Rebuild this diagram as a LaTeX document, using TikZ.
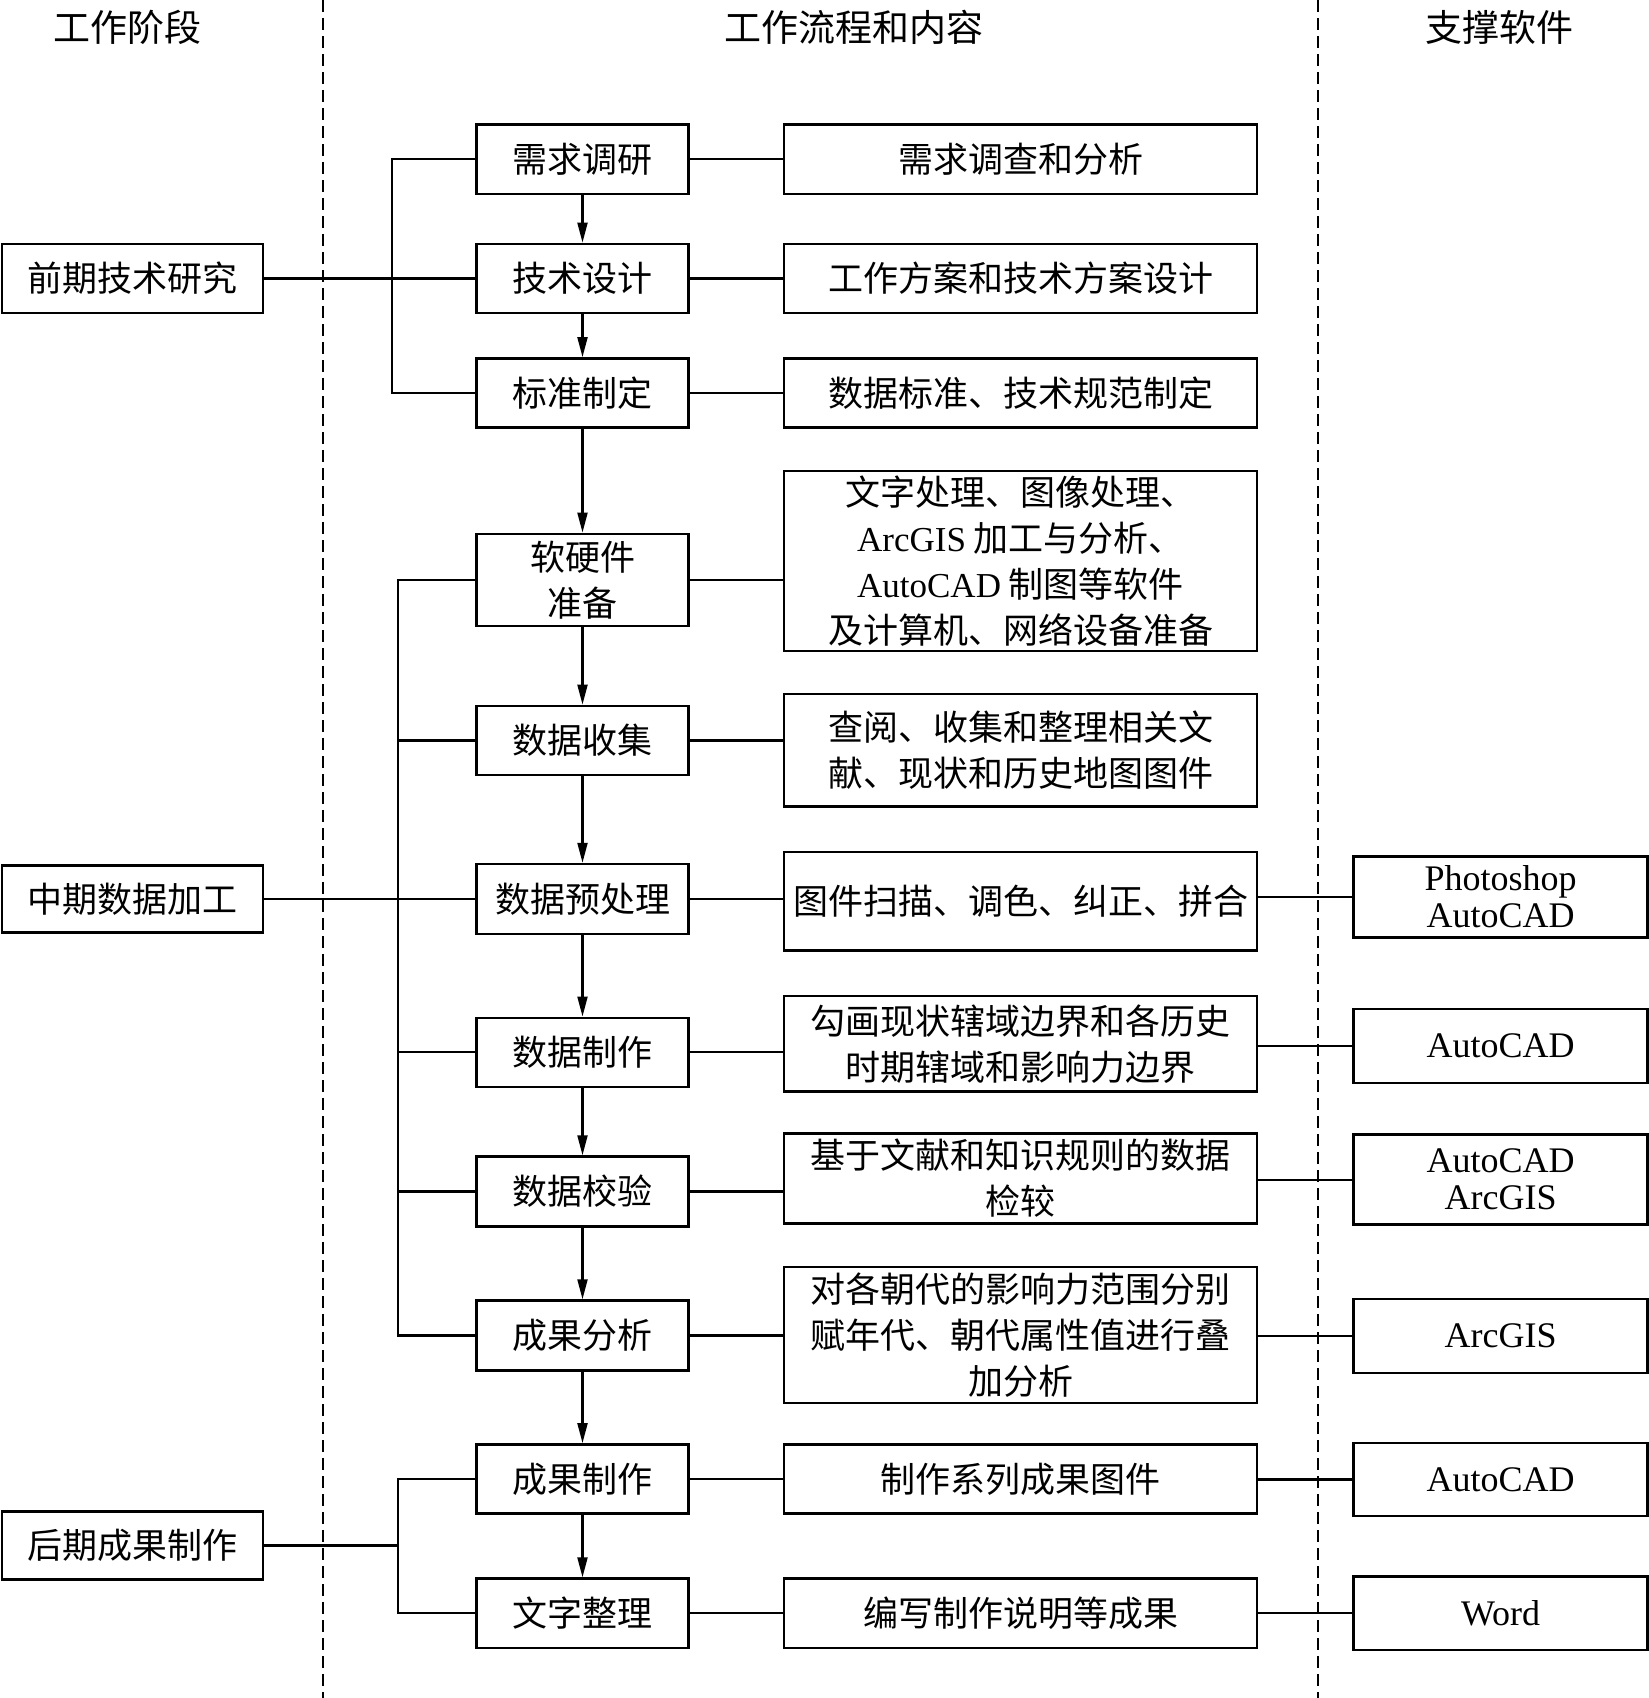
\documentclass[tikz,border=0pt]{standalone}
\usepackage{fontspec}
\setmainfont{Noto Sans CJK SC}
\newfontfamily\lat{Liberation Serif}
\usetikzlibrary{arrows.meta}
\begin{document}
\begin{tikzpicture}[x=1pt,y=-1pt,
  box/.style={draw,line width=2.5pt,inner sep=0pt,align=center,font=\fontsize{35}{46}\selectfont},
  lbox/.style={box,minimum width=261},
  mbox/.style={box,minimum width=212},
  cbox/.style={box,minimum width=473},
  sbox/.style={box,minimum width=294,font=\lat\fontsize{36}{37}\selectfont},
  head/.style={font=\fontsize{37}{40}\selectfont,inner sep=0pt},
  conn/.style={line width=2.1pt},
  arr/.style={conn,-{Triangle[length=20pt,width=10pt]}},
  sep/.style={line width=2pt,dash pattern=on 12pt off 6pt}
]
\useasboundingbox (0,0) rectangle (1649,1698);
\fill[white] (0,0) rectangle (1649,1698);

% separators
\coordinate (d1t) at (322.6,0);
\coordinate (d1b) at (322.6,1698);
\coordinate (d2t) at (1317.6,0);
\coordinate (d2b) at (1317.6,1698);
\draw[sep] (d1t) -- (d1b);
\draw[sep] (d2t) -- (d2b);

% headers
\node[head] (h1) at (127.8,27) {工作阶段};
\node[head] (h2) at (854,27) {工作流程和内容};
\node[head] (h3) at (1499.5,27) {支撑软件};

% left column
\node[lbox,minimum height=69.3] (L1) at (132.5,278.5) {前期技术研究};
\node[lbox,minimum height=67] (L2) at (132.5,899) {中期数据加工};
\node[lbox,minimum height=68.3] (L3) at (132.5,1545.5) {后期成果制作};

% middle column
\node[mbox,minimum height=69.3] (m1) at (582.5,159.2) {需求调研};
\node[mbox,minimum height=69.3] (m2) at (582.5,278.5) {技术设计};
\node[mbox,minimum height=69.3] (m3) at (582.5,393) {标准制定};
\node[mbox,minimum height=92] (m4) at (582.5,579.8) {软硬件\\准备};
\node[mbox,minimum height=69.3] (m5) at (582.5,740.5) {数据收集};
\node[mbox,minimum height=70] (m6) at (582.5,899) {数据预处理};
\node[mbox,minimum height=69.3] (m7) at (582.5,1052.4) {数据制作};
\node[mbox,minimum height=70] (m8) at (582.5,1191.5) {数据校验};
\node[mbox,minimum height=70] (m9) at (582.5,1335.5) {成果分析};
\node[mbox,minimum height=69.3] (m10) at (582.5,1479) {成果制作};
\node[mbox,minimum height=69.3] (m11) at (582.5,1613.2) {文字整理};

% content column
\node[cbox,minimum height=69.3] (c1) at (1020.5,159.2) {需求调查和分析};
\node[cbox,minimum height=69.3] (c2) at (1020.5,278.5) {工作方案和技术方案设计};
\node[cbox,minimum height=69.3] (c3) at (1020.5,393) {数据标准、技术规范制定};
\node[cbox,minimum height=179.7] (c4) at (1020.5,560.9) {文字处理、图像处理、\\{\lat ArcGIS} 加工与分析、\\{\lat AutoCAD} 制图等软件\\及计算机、网络设备准备};
\node[cbox,minimum height=112.6] (c5) at (1020.5,750.3) {查阅、收集和整理相关文\\献、现状和历史地图图件};
\node[cbox,minimum height=98.6] (c6) at (1020.5,901.3) {图件扫描、调色、纠正、拼合};
\node[cbox,minimum height=95.4] (c7) at (1020.5,1043.7) {勾画现状辖域边界和各历史\\时期辖域和影响力边界};
\node[cbox,minimum height=89.8] (c8) at (1020.5,1178.5) {基于文献和知识规则的数据\\检较};
\node[cbox,minimum height=136.4] (c9) at (1020.5,1335) {对各朝代的影响力范围分别\\赋年代、朝代属性值进行叠\\加分析};
\node[cbox,minimum height=69.3] (c10) at (1020.5,1479) {制作系列成果图件};
\node[cbox,minimum height=69.3] (c11) at (1020.5,1613.2) {编写制作说明等成果};

% software column
\node[sbox,minimum height=81.2] (s6) at (1500.6,897) {Photoshop\\AutoCAD};
\node[sbox,minimum height=73.7] (s7) at (1500.6,1045.9) {AutoCAD};
\node[sbox,minimum height=89.8] (s8) at (1500.6,1179.6) {AutoCAD\\ArcGIS};
\node[sbox,minimum height=73.7] (s9) at (1500.6,1336) {ArcGIS};
\node[sbox,minimum height=72.6] (s10) at (1500.6,1479.5) {AutoCAD};
\node[sbox,minimum height=73.6] (s11) at (1500.6,1613.2) {Word};

% bracket x positions
\coordinate (b1) at (392,0);
\coordinate (b2) at (398.4,0);

% stage brackets
\draw[conn] (m1.west) -- (m1.west -| b1) |- (m3.west);
\draw[conn] (L1.east) -- (m2.west);
\draw[conn] (m4.west) -- (m4.west -| b2) |- (m9.west);
\draw[conn] (m5.west -| b2) -- (m5.west);
\draw[conn] (m7.west -| b2) -- (m7.west);
\draw[conn] (m8.west -| b2) -- (m8.west);
\draw[conn] (L2.east) -- (m6.west);
\draw[conn] (m10.west) -- (m10.west -| b2) |- (m11.west);
\draw[conn] (L3.east) -- (L3.east -| b2);

% flow arrows
\foreach \a/\b in {m1/m2,m2/m3,m3/m4,m4/m5,m5/m6,m6/m7,m7/m8,m8/m9,m9/m10,m10/m11}
  \draw[arr] (\a.south) -- (\b.north);

% middle to content
\foreach \i in {1,...,11}
  \draw[conn] (m\i.east) -- (m\i.east -| c\i.west);

% content to software
\foreach \i in {6,...,11}
  \draw[conn] (s\i.west -| c\i.east) -- (s\i.west);
\end{tikzpicture}
\end{document}
